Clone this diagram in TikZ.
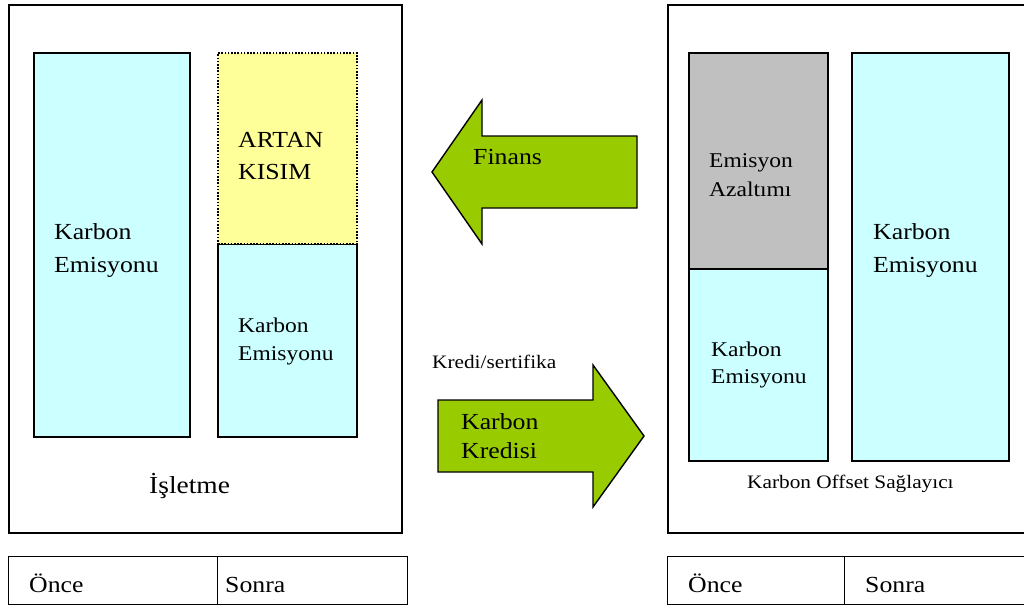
\documentclass[tikz,border=0pt]{standalone}
\usepackage{fontspec}
\setmainfont[FakeStretch=1.12]{Liberation Serif}
\definecolor{emisyon}{HTML}{CCFFFF}
\definecolor{artan}{HTML}{FFFF99}
\definecolor{azaltim}{HTML}{C0C0C0}
\definecolor{okyesil}{HTML}{99CC00}
\newcommand\txtsize[2]{\fontsize{#1}{#2}\selectfont}
\begin{document}
\begin{tikzpicture}[x=1pt,y=-1pt,
  frame/.style={draw=black, line width=1.6pt, fill=white, anchor=north west, inner sep=0pt},
  cell/.style={draw=black, line width=1.4pt, anchor=north west, inner sep=0pt, minimum height=48pt},
  bar/.style={draw=black, line width=1.5pt, anchor=north west, inner sep=0pt},
  blue/.style={bar, fill=emisyon},
  label/.style={anchor=base west, inner sep=0pt, align=left},
  big/.style={label, font=\txtsize{23}{33}},
  mid/.style={label, font=\txtsize{21}{28}},
  small/.style={label, font=\txtsize{19}{23}},
  okbody/.style={draw=black, line width=1.4pt, fill=okyesil, line join=miter}]
\useasboundingbox (0,0) rectangle (1024,608);
\clip (0,0) rectangle (1024,608);

% company and offset provider frames
\node[frame, minimum width=393pt, minimum height=528pt] (isletme) at (8,4) {};
\node[frame, minimum width=380pt, minimum height=528pt] (saglayici) at (667,4) {};

% before / after tables
\node[cell, minimum width=209pt] (once1) at (8,556) {};
\node[cell, minimum width=190pt] (sonra1) at (217,556) {};
\node[cell, minimum width=177pt] (once2) at (667,556) {};
\node[cell, minimum width=200pt] (sonra2) at (844,556) {};

% company emission bars
\node[blue, minimum width=156pt, minimum height=384pt] (lbig) at (33,52) {};
\node[blue, minimum width=139pt, minimum height=193pt] (llow) at (217,243) {};
\node[bar, draw=black, line width=1.8pt, dash pattern=on 1.6pt off 1.6pt,
  fill=artan, minimum width=139pt, minimum height=191pt] (lup) at (217,52) {};

% provider bars
\node[bar, fill=azaltim, minimum width=139pt, minimum height=216pt] (rgrey) at (688,52) {};
\node[blue, minimum width=139pt, minimum height=192pt] (rlow) at (688,268) {};
\node[blue, minimum width=157pt, minimum height=408pt] (rbig) at (851,52) {};

% block arrows
\draw[okbody] (432,172) -- (482,100) -- (482,136) -- (637,136) -- (637,208)
  -- (482,208) -- (482,244) -- cycle;
\draw[okbody] (438,400) -- (593,400) -- (593,365) -- (644,436) -- (593,507)
  -- (593,472) -- (438,472) -- cycle;

% labels (two-line labels are placed by the baseline of their last line)
\node[big] (t1) at (54,272) {Karbon\\Emisyonu};
\node[big, font=\txtsize{23}{32}] (t2) at (238,179) {ARTAN\\KISIM};
\node[mid] (t3) at (238,360) {Karbon\\Emisyonu};
\node[mid, font=\txtsize{21}{29}] (t4) at (709,196) {Emisyon\\Azaltımı};
\node[big] (t5) at (873,272) {Karbon\\Emisyonu};
\node[mid, font=\txtsize{21}{27}] (t6) at (711,383) {Karbon\\Emisyonu};
\node[big] (t7) at (473,164) {Finans};
\node[small] (t8) at (432,368) {Kredi/sertifika};
\node[big, font=\txtsize{23}{29}] (t9) at (461,458) {Karbon\\Kredisi};
\node[label, font=\txtsize{24.5}{28}] (t10) at (149,493) {İşletme};
\node[small] (t11) at (747,488) {Karbon Offset Sağlayıcı};
\node[big] (t12) at (29,592) {Önce};
\node[big] (t13) at (225,592) {Sonra};
\node[big] (t14) at (688,592) {Önce};
\node[big] (t15) at (865,592) {Sonra};
\end{tikzpicture}
\end{document}
